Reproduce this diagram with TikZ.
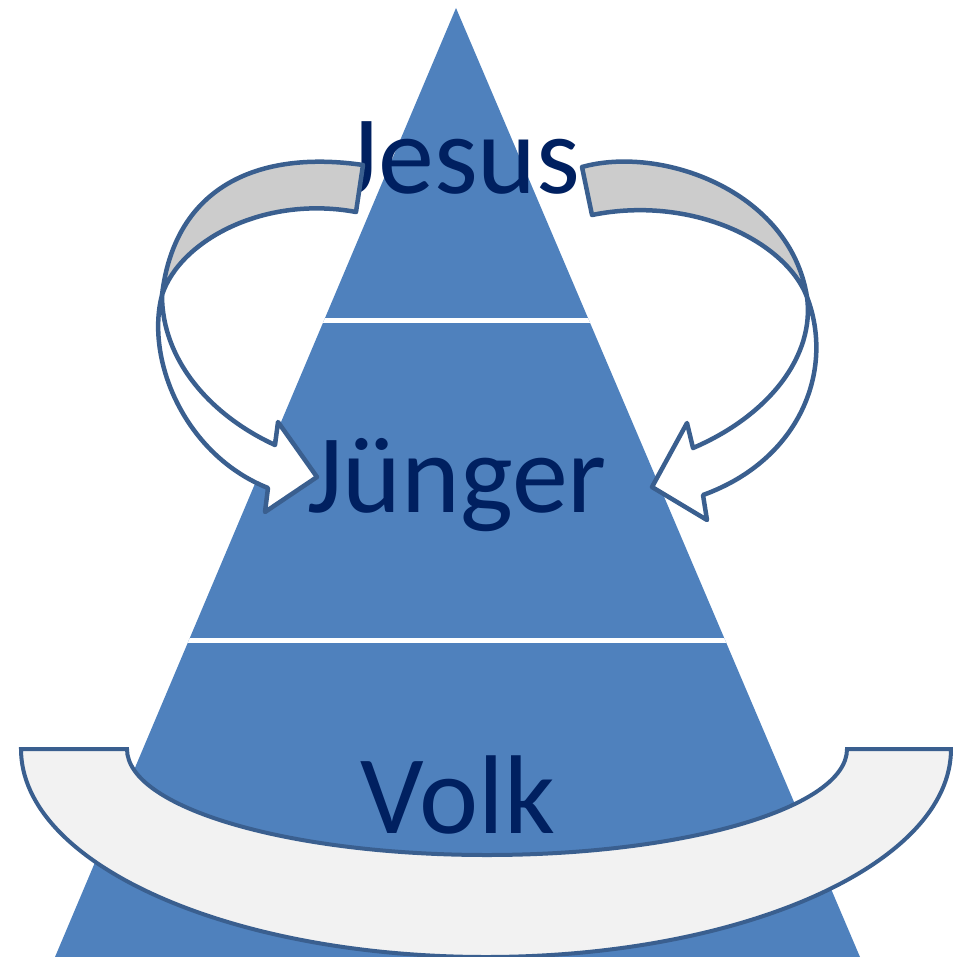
\documentclass[tikz,border=0pt]{standalone}
\usepackage{fontspec}
\setmainfont{Carlito}
\usepackage{tikz}
\usetikzlibrary{positioning}
\definecolor{pyrblue}{HTML}{4F81BD}
\definecolor{navy}{HTML}{002060}
\definecolor{edge}{HTML}{3A5F8F}
\definecolor{backgray}{HTML}{CCCCCC}
\definecolor{bandgray}{HTML}{F2F2F2}

\begin{document}
\begin{tikzpicture}[x=1pt, y=-1pt,
    lbl/.style={text=navy, font=\fontsize{112}{112}\selectfont, inner sep=0pt, anchor=base},
    ar/.style={draw=edge, line width=4.5pt, line join=round}]
    \useasboundingbox (0,0) rectangle (952,957);
    % pyramid
    \fill[pyrblue] (456,8) -- (860,957) -- (55,957) -- cycle;
    \begin{scope}
        \clip (456,8) -- (860,957) -- (55,957) -- cycle;
        \draw[white, line width=4.5pt] (0,320.5) -- (952,320.5);
        \draw[white, line width=4.5pt] (0,640.5) -- (952,640.5);
    \end{scope}
    \node[lbl] (jesus) at (461.5,194) {Jesus};
    \node[lbl] (juenger) at (457,512) {Jünger};
    \node[lbl] (volk) at (458,833) {Volk};
    % left arrow
    \filldraw[ar, fill=backgray] (363,165) .. controls (260,150) and (175,185) .. (162,295)
        .. controls (180,240) and (265,195) .. (356,212) -- cycle;
    \filldraw[ar, fill=white] (162,295) .. controls (145,360) and (185,455) .. (268,488)
        -- (265,512) -- (317,477) -- (278,422) -- (275,445)
        .. controls (210,415) and (162,360) .. (162,295) -- cycle;
    % right arrow
    \filldraw[ar, fill=backgray] (582,167) .. controls (660,145) and (790,190) .. (807,297)
        .. controls (785,240) and (690,195) .. (592,215) -- cycle;
    \filldraw[ar, fill=white] (807,297) .. controls (835,370) and (800,460) .. (703,495)
        -- (707,520) -- (652,487) -- (687,423) -- (693,448)
        .. controls (770,415) and (815,355) .. (807,297) -- cycle;
    % band
    \filldraw[draw=edge, line width=4pt, fill=bandgray] (21,749) -- (127,749)
        arc[start angle=180, end angle=0, x radius=360, y radius=106] -- (951,749)
        arc[start angle=0, end angle=180, x radius=465, y radius=208] -- cycle;
\end{tikzpicture}
\end{document}
